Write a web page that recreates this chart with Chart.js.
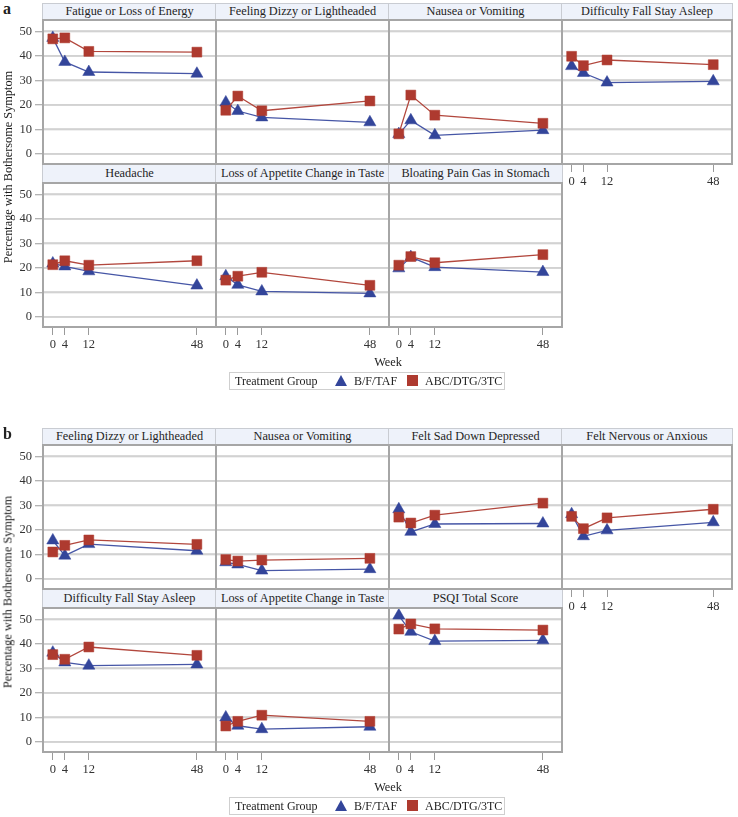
<!DOCTYPE html>
<html><head><meta charset="utf-8">
<script src="https://cdn.jsdelivr.net/npm/chart.js@4/dist/chart.umd.min.js"></script>
<style>
body{margin:0;background:#fff;width:738px;height:817px;position:relative;overflow:hidden;font-family:"Liberation Serif","Times New Roman",serif;color:#222}
.hdr{position:absolute;background:#eef2fa;border:1px solid #c9ccd2;box-sizing:border-box;text-align:center;font-size:12.3px;white-space:nowrap;overflow:hidden;color:#1e1e1e}
canvas{position:absolute}
.lbl{position:absolute;white-space:nowrap}
.legend{position:absolute;border:1px solid #cfcfcf;box-sizing:border-box;background:#fff;font-size:12px;color:#222}
.tri{position:absolute;width:0;height:0;border-left:6.5px solid transparent;border-right:6.5px solid transparent;border-bottom:11px solid #33459a}
.sq{position:absolute;width:11px;height:11px;background:#ae3a2f}
</style>
</head><body>
<script>
// ---------- data ----------
const weeks = [0, 4, 12, 48];
const yTicks = [0, 10, 20, 30, 40, 50];
const seriesNames = ['B/F/TAF', 'ABC/DTG/3TC'];
const figLetters = ['a', 'b'];

// Figure a
const titlesA = ['Fatigue or Loss of Energy', 'Feeling Dizzy or Lightheaded', 'Nausea or Vomiting', 'Difficulty Fall Stay Asleep',
                 'Headache', 'Loss of Appetite Change in Taste', 'Bloating Pain Gas in Stomach'];
const a_fatigue_BFTAF  = [47.3, 37.5, 33.4, 32.7];
const a_fatigue_ABC    = [46.9, 47.3, 41.8, 41.5];
const a_dizzy_BFTAF    = [21.0, 17.5, 14.9, 12.9];
const a_dizzy_ABC      = [17.8, 23.6, 17.6, 21.6];
const a_nausea_BFTAF   = [8.1, 13.7, 7.6, 9.7];
const a_nausea_ABC     = [8.2, 24.0, 15.8, 12.5];
const a_sleep_BFTAF    = [35.8, 33.0, 29.1, 29.6];
const a_sleep_ABC      = [39.8, 36.0, 38.3, 36.4];
const a_headache_BFTAF = [21.8, 20.6, 18.6, 12.8];
const a_headache_ABC   = [21.3, 22.9, 21.1, 22.9];
const a_appetite_BFTAF = [16.6, 13.1, 10.4, 9.6];
const a_appetite_ABC   = [15.0, 16.6, 18.2, 12.9];
const a_bloating_BFTAF = [19.8, 24.4, 20.3, 18.3];
const a_bloating_ABC   = [21.1, 24.6, 22.1, 25.4];

// Figure b
const titlesB = ['Feeling Dizzy or Lightheaded', 'Nausea or Vomiting', 'Felt Sad Down Depressed', 'Felt Nervous or Anxious',
                 'Difficulty Fall Stay Asleep', 'Loss of Appetite Change in Taste', 'PSQI Total Score'];
const b_dizzy_BFTAF    = [15.7, 9.5, 14.2, 11.5];
const b_dizzy_ABC      = [11.0, 13.7, 15.9, 14.1];
const b_nausea_BFTAF   = [6.8, 5.9, 3.4, 4.0];
const b_nausea_ABC     = [7.9, 7.3, 7.7, 8.4];
const b_sad_BFTAF      = [28.4, 19.2, 22.4, 22.6];
const b_sad_ABC        = [25.2, 22.8, 26.0, 30.9];
const b_nervous_BFTAF  = [26.4, 17.4, 19.8, 23.1];
const b_nervous_ABC    = [25.5, 20.5, 24.9, 28.4];
const b_sleep_BFTAF    = [36.4, 32.4, 31.1, 31.6];
const b_sleep_ABC      = [35.6, 33.7, 38.7, 35.3];
const b_appetite_BFTAF = [10.0, 6.6, 5.2, 6.2];
const b_appetite_ABC   = [6.5, 8.4, 10.9, 8.4];
const b_psqi_BFTAF     = [51.5, 44.9, 41.1, 41.4];
const b_psqi_ABC       = [46.0, 48.1, 46.1, 45.6];

const seriesA = [[a_fatigue_BFTAF, a_fatigue_ABC], [a_dizzy_BFTAF, a_dizzy_ABC], [a_nausea_BFTAF, a_nausea_ABC], [a_sleep_BFTAF, a_sleep_ABC],
                 [a_headache_BFTAF, a_headache_ABC], [a_appetite_BFTAF, a_appetite_ABC], [a_bloating_BFTAF, a_bloating_ABC]];
const seriesB = [[b_dizzy_BFTAF, b_dizzy_ABC], [b_nausea_BFTAF, b_nausea_ABC], [b_sad_BFTAF, b_sad_ABC], [b_nervous_BFTAF, b_nervous_ABC],
                 [b_sleep_BFTAF, b_sleep_ABC], [b_appetite_BFTAF, b_appetite_ABC], [b_psqi_BFTAF, b_psqi_ABC]];

// ---------- layout ----------
const FONT = '"Liberation Serif", "Times New Roman", serif';
const FIG_TOP = [0, 425];
const COL_L = [42, 215, 388, 561];
const COL_W = [175, 175, 175, 172];
const HDR = [[3, 17], [164, 19]];
const PLOT = [[19, 146], [182, 146]];
const Y_AXIS_W = 42, X_AXIS_H = 30;
const BLUE = '#33459a', BLUE_LINE = '#4656a6', RED = '#ae3a2f', RED_LINE = '#b2473d';
const GRID = '#cccccc';

// horizontal grid lines (from the y scale's own ticks) + panel frame
const frame = {
  id: 'frame',
  beforeDatasetsDraw(chart) {
    const a = chart.chartArea, c = chart.ctx, ys = chart.scales.y;
    c.save(); c.strokeStyle = GRID; c.lineWidth = 1.6;
    yTicks.forEach(v => {
      const py = Math.round(ys.getPixelForValue(v));
      c.beginPath(); c.moveTo(a.left, py); c.lineTo(a.right, py); c.stroke();
    });
    c.restore();
  },
  afterDraw(chart) {
    const a = chart.chartArea, c = chart.ctx;
    c.save(); c.strokeStyle = '#a6a6a6'; c.lineWidth = 2;
    c.strokeRect(a.left + 1, a.top + 1, a.right - a.left - 2, a.bottom - a.top - 2);
    c.restore();
  }
};

function el(tag, cls, css, text) {
  const e = document.createElement(tag);
  if (cls) e.className = cls;
  Object.assign(e.style, css || {});
  if (text !== undefined) e.textContent = text;
  document.body.appendChild(e);
  return e;
}

[[titlesA, seriesA], [titlesB, seriesB]].forEach(([titles, series], f) => {
  const o = FIG_TOP[f];
  el('div', 'lbl', {left: '3px', top: (o + 0) + 'px', fontWeight: 'bold', fontSize: '16px'}, figLetters[f]);
  titles.forEach((t, i) => {
    const row = Math.floor(i / 4), col = i % 4;
    el('div', 'hdr', {left: COL_L[col] + 'px', top: (o + HDR[row][0]) + 'px', width: COL_W[col] + 'px',
      height: HDR[row][1] + 'px', lineHeight: (HDR[row][1] - 2) + 'px'}, t);
  });
  titles.forEach((t, i) => {
    const row = Math.floor(i / 4), col = i % 4;
    const leftCol = col === 0, hasX = row === 1 || col === 3;
    const cv = document.createElement('canvas');
    const w = COL_W[col] + Y_AXIS_W, h = PLOT[row][1] + (hasX ? X_AXIS_H : 0);
    cv.width = w; cv.height = h;
    Object.assign(cv.style, {left: (COL_L[col] - Y_AXIS_W) + 'px', top: (o + PLOT[row][0]) + 'px', width: w + 'px', height: h + 'px'});
    document.body.appendChild(cv);
    const [bf, abc] = series[i];
    new Chart(cv, {
      type: 'line',
      data: {datasets: [
        {label: seriesNames[1], data: weeks.map((x, k) => ({x, y: abc[k]})), borderColor: RED_LINE, borderWidth: 1.3, fill: false,
         backgroundColor: RED, pointBackgroundColor: RED, pointBorderColor: RED, pointBorderWidth: 0.5,
         pointStyle: 'rect', pointRadius: 7, order: 0},
        {label: seriesNames[0], data: weeks.map((x, k) => ({x, y: bf[k]})), borderColor: BLUE_LINE, borderWidth: 1.3, fill: false,
         backgroundColor: BLUE, pointBackgroundColor: BLUE, pointBorderColor: BLUE, pointBorderWidth: 0.5,
         pointStyle: 'triangle', pointRadius: 7, order: 1}
      ]},
      options: {
        responsive: false, animation: false, devicePixelRatio: 1,
        layout: {padding: 0, autoPadding: false},
        plugins: {legend: {display: false}, tooltip: {enabled: false}},
        scales: {
          x: {type: 'linear', min: -3.6, max: 54.7,
              afterBuildTicks: s => { s.ticks = weeks.map(v => ({value: v})); },
              afterFit: s => { s.height = hasX ? X_AXIS_H : 0; s.paddingLeft = 0; s.paddingRight = 0; },
              ticks: {display: hasX, autoSkip: false, maxRotation: 0, padding: 2, color: '#333', font: {family: FONT, size: 12.5}},
              grid: {display: hasX, drawOnChartArea: false, drawTicks: true, tickLength: 7, tickColor: '#9a9a9a', lineWidth: 1},
              border: {display: false}},
          y: {type: 'linear', min: -4.5, max: 55,
              afterBuildTicks: s => { s.ticks = yTicks.map(v => ({value: v})); },
              afterFit: s => { s.width = Y_AXIS_W; s.paddingTop = 0; s.paddingBottom = 0; },
              ticks: {display: true, padding: 3, color: leftCol ? '#333' : 'rgba(0,0,0,0)', font: {family: FONT, size: 12.5}},
              grid: {display: true, drawOnChartArea: true, color: '#e2e2e2', lineWidth: 1.5, drawTicks: true, tickLength: 7, tickWidth: 1,
                     tickColor: leftCol ? '#9a9a9a' : 'rgba(0,0,0,0)'},
              border: {display: false}}
        }
      },
      plugins: [frame]
    });
  });
  // axis titles and legend
  el('div', 'lbl', {left: '8px', top: (o + 167) + 'px', fontSize: '12.3px', color: '#1a1a1a', transform: 'translate(-50%,-50%) rotate(-90deg)'}, 'Percentage with Bothersome Symptom');
  el('div', 'lbl', {left: '388px', top: (o + 355) + 'px', fontSize: '12.3px', transform: 'translateX(-50%)'}, 'Week');
  const lg = el('div', 'legend', {left: '229px', top: (o + 372) + 'px', width: '276px', height: '18px'});
  const add = (cls, css, text) => { const e = document.createElement('div'); e.className = cls; Object.assign(e.style, css); if (text) e.textContent = text; lg.appendChild(e); };
  add('lbl', {left: '5px', top: '0px', lineHeight: '16px'}, 'Treatment Group');
  add('tri', {left: '105px', top: '2px'});
  add('lbl', {left: '124px', top: '0px', lineHeight: '16px'}, seriesNames[0]);
  add('sq', {left: '177px', top: '2px'});
  add('lbl', {left: '195px', top: '0px', lineHeight: '16px'}, seriesNames[1]);
});
</script>
</body></html>
